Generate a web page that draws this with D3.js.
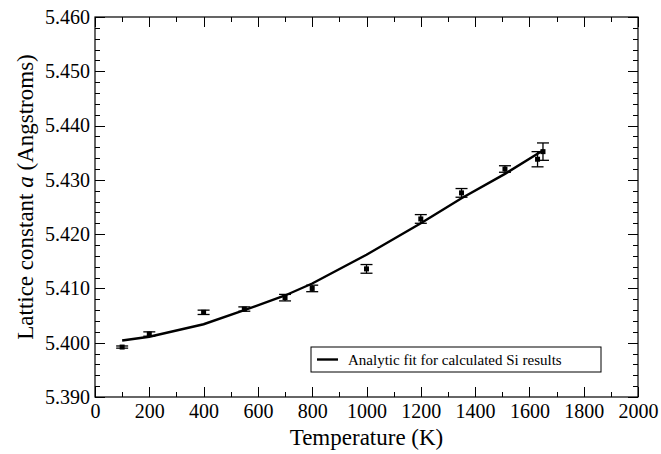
<!DOCTYPE html>
<html>
<head>
<meta charset="utf-8">
<script src="https://cdn.jsdelivr.net/npm/d3@7"></script>
<style>
  body { margin: 0; background: #fff; }
  svg text { font-family: "Liberation Serif", "Times New Roman", Times, "DejaVu Serif", serif !important; fill: #000; }
</style>
</head>
<body>
<svg id="chart" width="661" height="454"></svg>
<script>
// measured points (temperature K, lattice constant, error)
var temps  = [100, 200, 400, 550, 700, 800, 1000, 1200, 1350, 1510, 1630, 1650];
var values = [5.3992, 5.4016, 5.4056, 5.4062, 5.4083, 5.4100, 5.4136, 5.4228, 5.4276, 5.4320, 5.4338, 5.4352];
var errors = [0.0002, 0.0004, 0.0004, 0.0004, 0.0006, 0.0006, 0.0008, 0.0008, 0.0008, 0.0006, 0.0014, 0.0016];

// analytic fit evaluated at the same temperatures
var fitTemps  = [100, 200, 400, 550, 700, 800, 1000, 1200, 1350, 1510, 1630, 1650];
var fitValues = [5.4004, 5.4011, 5.4034, 5.4060, 5.4087, 5.4109, 5.4162, 5.4220, 5.4266, 5.4311, 5.4348, 5.4354];

var xTicks = d3.range(0, 2001, 200);
var yTicks = [5.390, 5.400, 5.410, 5.420, 5.430, 5.440, 5.450, 5.460];

var legendText = "Analytic fit for calculated Si results";

var svg = d3.select("#chart");
var margin = {left: 95, right: 23, top: 17, bottom: 57};
var width = 661 - margin.left - margin.right;
var height = 454 - margin.top - margin.bottom;

var g = svg.append("g")
    .attr("transform", "translate(" + margin.left + "," + margin.top + ")");

var x = d3.scaleLinear().domain([0, 2000]).range([0, width]);
var y = d3.scaleLinear().domain([5.390, 5.460]).range([height, 0]);

// ticks drawn inward on all four sides
function drawTicks(){
    var xMinor = d3.range(0, 2001, 100);
    var yMinor = d3.range(0, 36).map(function(i){ return 5.390 + i * 0.002; });
    var t = g.append("g").attr("stroke", "#000").attr("stroke-width", 1);
    xMinor.forEach(function(v){
        var len = (v % 200 === 0) ? 10 : 5;
        var px = Math.round(x(v)) + 0.5;
        t.append("line").attr("x1", px).attr("x2", px).attr("y1", height).attr("y2", height - len);
        t.append("line").attr("x1", px).attr("x2", px).attr("y1", 0).attr("y2", len);
    });
    yMinor.forEach(function(v, i){
        var len = (i % 5 === 0) ? 10 : 5;
        var py = Math.round(y(v)) + 0.5;
        t.append("line").attr("x1", 0).attr("x2", len).attr("y1", py).attr("y2", py);
        t.append("line").attr("x1", width).attr("x2", width - len).attr("y1", py).attr("y2", py);
    });
}
drawTicks();

// frame
g.append("rect")
    .attr("x", 0).attr("y", 0)
    .attr("width", width).attr("height", height)
    .attr("fill", "none").attr("stroke", "#000").attr("stroke-width", 1.2);

// tick labels
var xAxis = d3.axisBottom(x).tickValues(xTicks).tickSize(0).tickPadding(7).tickFormat(d3.format("d"));
var xg = g.append("g").attr("transform", "translate(0," + height + ")").call(xAxis);
xg.select(".domain").remove();
xg.attr("font-family", null);
xg.selectAll("text").style("font-size", "20px");

var yAxis = d3.axisLeft(y).tickValues(yTicks).tickSize(0).tickPadding(5).tickFormat(d3.format(".3f"));
var yg = g.append("g").call(yAxis);
yg.select(".domain").remove();
yg.attr("font-family", null);
yg.selectAll("text").style("font-size", "20px");

// fit line
var line = d3.line().x(function(d){ return x(d[0]); }).y(function(d){ return y(d[1]); });
g.append("path")
    .datum(fitTemps.map(function(t, i){ return [t, fitValues[i]]; }))
    .attr("d", line)
    .attr("fill", "none").attr("stroke", "#000").attr("stroke-width", 2.4);

// error bars and points
var pts = temps.map(function(t, i){ return {t: t, v: values[i], e: errors[i]}; });
var eb = g.selectAll(".err").data(pts).enter().append("g").attr("class", "err")
    .attr("stroke", "#000").attr("stroke-width", 1.3);
eb.append("line")
    .attr("x1", function(d){ return x(d.t); }).attr("x2", function(d){ return x(d.t); })
    .attr("y1", function(d){ return y(d.v - d.e); }).attr("y2", function(d){ return y(d.v + d.e); });
eb.append("line")
    .attr("x1", function(d){ return x(d.t) - 6; }).attr("x2", function(d){ return x(d.t) + 6; })
    .attr("y1", function(d){ return y(d.v - d.e); }).attr("y2", function(d){ return y(d.v - d.e); });
eb.append("line")
    .attr("x1", function(d){ return x(d.t) - 6; }).attr("x2", function(d){ return x(d.t) + 6; })
    .attr("y1", function(d){ return y(d.v + d.e); }).attr("y2", function(d){ return y(d.v + d.e); });
g.selectAll(".pt").data(pts).enter().append("rect").attr("class", "pt")
    .attr("x", function(d){ return x(d.t) - 2.5; })
    .attr("y", function(d){ return y(d.v) - 2.5; })
    .attr("width", 5).attr("height", 5).attr("fill", "#000");

// legend
var lg = svg.append("g").attr("transform", "translate(311,347)");
lg.append("rect").attr("x", 0).attr("y", 0).attr("width", 290).attr("height", 25)
    .attr("fill", "#fff").attr("stroke", "#000").attr("stroke-width", 1);
lg.append("line").attr("x1", 6).attr("x2", 27).attr("y1", 12.5).attr("y2", 12.5)
    .attr("stroke", "#000").attr("stroke-width", 2.4);
lg.append("text").attr("x", 37).attr("y", 18).style("font-size", "15px").text(legendText);

// axis titles
svg.append("text")
    .attr("x", margin.left + width / 2).attr("y", 445)
    .attr("text-anchor", "middle").style("font-size", "23px")
    .text("Temperature (K)");

var yt = svg.append("text")
    .attr("transform", "translate(33,197) rotate(-90)")
    .attr("text-anchor", "middle").style("font-size", "23px");
yt.append("tspan").text("Lattice constant ");
yt.append("tspan").style("font-style", "italic").text("a");
yt.append("tspan").text(" (Angstroms)");
</script>
</body>
</html>
